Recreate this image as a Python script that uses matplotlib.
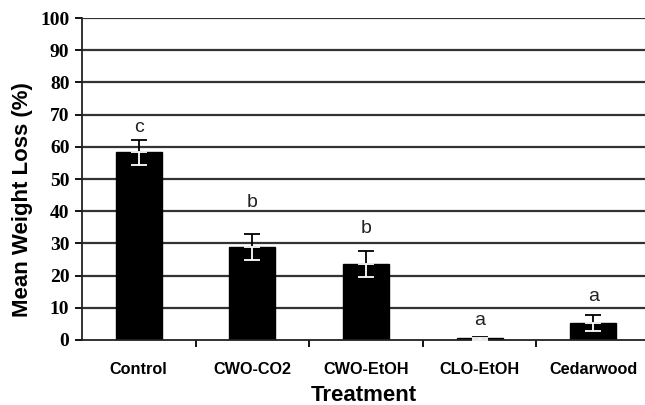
import matplotlib
matplotlib.use("Agg")
import matplotlib.pyplot as plt
import numpy as np

categories = ["Control", "CWO-CO2", "CWO-EtOH", "CLO-EtOH", "Cedarwood"]
means = [58.3, 29.0, 23.7, 0.5, 5.3]
errors = [3.9, 4.0, 4.0, 0.5, 2.5]
letters = ["c", "b", "b", "a", "a"]
letter_y = [66.1, 42.8, 34.5, 6.2, 13.4]
yticks = list(range(0, 101, 10))

fig = plt.figure(figsize=(6.45, 4.05), dpi=100)
ax = fig.add_axes([0.127, 0.1605, 0.873, 0.795])

x = np.arange(len(categories))
ax.set_axisbelow(True)
for t in yticks[1:]:
    ax.axhline(t, color="#333333", lw=1.6, zorder=0)
ax.bar(x, means, width=0.405, color="black", edgecolor="black", zorder=2)

up = np.array([np.zeros(len(errors)), errors])
dn = np.array([errors, np.zeros(len(errors))])
ax.errorbar(x, means, yerr=up, fmt="none", ecolor="black", elinewidth=1.3,
            capsize=5.5, capthick=1.3, zorder=3)
ax.errorbar(x, means, yerr=dn, fmt="none", ecolor="white", elinewidth=1.3,
            capsize=5.5, capthick=1.3, zorder=3)

for xi, l, ly in zip(x, letters, letter_y):
    ax.text(xi, ly, l, ha="center", va="center", fontsize=14,
            family="Liberation Sans", color="#222222")

ax.set_xlim(-0.5, 4.456)
ax.set_ylim(0, 100)
ax.set_yticks(yticks)
ax.set_yticklabels([str(t) for t in yticks], family="Liberation Serif",
                   fontweight="bold", fontsize=14)
ax.set_xticks(x)
ax.set_xticklabels(categories, family="Liberation Sans", fontweight="bold",
                   fontsize=11.7)
ax.set_xticks(np.arange(0.5, 4.5, 1.0), minor=True)
ax.tick_params(axis="x", which="major", length=0, pad=16)
ax.tick_params(axis="x", which="minor", length=5, width=1.3, direction="out")
ax.tick_params(axis="y", length=5, width=1.3, direction="out", pad=4)

for s in ["top", "right"]:
    ax.spines[s].set_visible(False)
ax.spines["left"].set_linewidth(1.3)
ax.spines["bottom"].set_linewidth(1.3)
ax.spines["left"].set_color("#222222")
ax.spines["bottom"].set_color("#222222")

ax.set_ylabel("Mean Weight Loss (%)", family="Liberation Sans",
              fontweight="bold", fontsize=16)
ax.yaxis.label.set_va("center")
ax.yaxis.label.set_ha("center")
ax.yaxis.set_label_coords((22.5 - 82.0) / 563.0, (205.0 - 65.0) / 322.0)

ax.set_xlabel("Treatment", family="Liberation Sans", fontweight="bold",
              fontsize=16)
ax.xaxis.label.set_va("baseline")
ax.xaxis.set_label_coords(0.5, (4.0 - 65.0) / 322.0)

fig.savefig("out.png", dpi=100)
